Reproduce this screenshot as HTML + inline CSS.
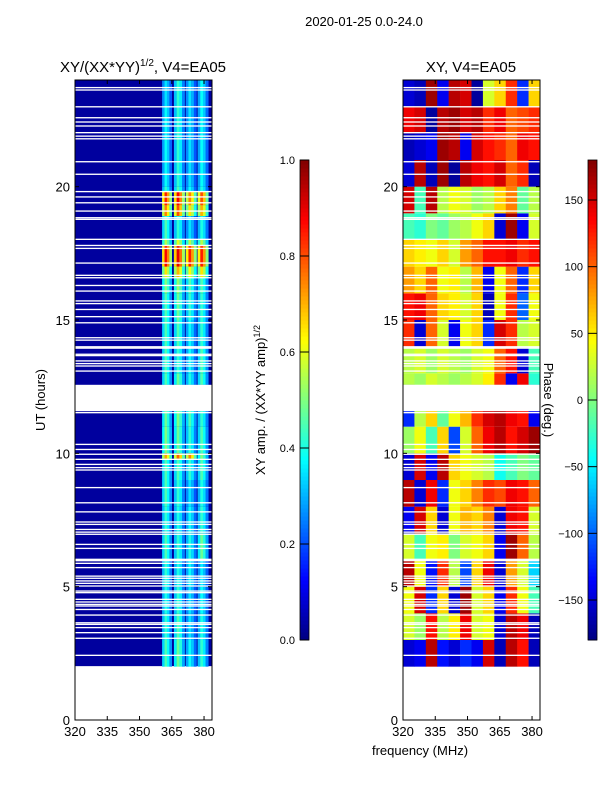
<!DOCTYPE html>
<html><head><meta charset="utf-8">
<style>
body{margin:0;background:#fff;}
svg text{font-family:"Liberation Sans","DejaVu Sans",sans-serif;fill:#000;}
</style></head>
<body>
<svg id="fig" width="600" height="800" viewBox="0 0 600 800" xmlns="http://www.w3.org/2000/svg">
<rect width="600" height="800" fill="#fff"/>
<text x="364" y="26" font-size="13" text-anchor="middle">2020-01-25 0.0-24.0</text>
<text x="143" y="72" font-size="15" text-anchor="middle">XY/(XX*YY)<tspan font-size="10" dy="-6">1/2</tspan><tspan dy="6">, V4=EA05</tspan></text>
<text x="471" y="72" font-size="15" text-anchor="middle">XY, V4=EA05</text>
<text transform="translate(45,400) rotate(-90)" font-size="13" text-anchor="middle">UT (hours)</text>
<text x="420" y="755" font-size="13" text-anchor="middle">frequency (MHz)</text>
<text transform="translate(265,400) rotate(-90)" font-size="13" text-anchor="middle">XY amp. / (XX*YY amp)<tspan font-size="9" dy="-5">1/2</tspan></text>
<text transform="translate(544,400) rotate(90)" font-size="13" text-anchor="middle">Phase (deg.)</text>
<g id="left"></g>
<g id="right"></g>
<g id="cbars"></g>
<g id="axes"></g>
</svg>
<script>
// ---- data ----
const xTicks = [320, 335, 350, 365, 380];
const yTicks = [0, 5, 10, 15, 20];
const ampTicks = [0.0, 0.2, 0.4, 0.6, 0.8, 1.0];
const phaseTicks = [-150, -100, -50, 0, 50, 100, 150];
const dataStart = 2.02, dataEnd = 24.0;
const gapHours = [[11.58, 12.57]];
const flagHours = [23.69,23.6,22.97,22.56,22.4,22.25,22.0,21.87,21.77,20.91,20.44,19.79,19.59,19.37,19.06,18.81,18.75,18.0,17.77,17.66,17.11,16.65,16.56,16.27,16.06,15.69,15.59,15.37,15.1,14.87,14.31,14.22,13.97,13.92,13.69,13.64,13.44,13.34,13.25,13.06,11.5,10.31,10.12,9.94,9.75,9.56,9.44,9.35,8.69,8.12,7.78,7.4,7.31,7.12,7.02,6.94,6.56,6.41,6.0,5.95,5.85,5.69,5.37,5.29,5.19,5.1,5.0,4.81,4.75,4.5,4.4,4.31,4.25,4.12,3.91,3.62,3.56,3.44,3.25,3.04,2.4];
const flagWidth = [0.05];
// bright channel groups (MHz) in amplitude panel
const chanLo = [360.5, 366, 371.5, 377];
const chanHi = [365, 371, 376.5, 382];
// relative response across sub-channels of each group
const subResp = [0.75, 1.0, 0.85, 0.6];
const bandLo = [2,3,4,5,6,7,8,9,10,11,12.57,13,14,15,16,17,18,19,20,21,22,23];
const ampCols = [
 [0.45,0.48,0.38,0.42],[0.42,0.45,0.35,0.4],[0.4,0.42,0.35,0.38],[0.42,0.4,0.38,0.36],
 [0.45,0.42,0.4,0.48],[0.42,0.4,0.38,0.42],[0.45,0.42,0.35,0.4],[0.45,0.45,0.42,0.45],
 [0.5,0.48,0.42,0.45],[0.48,0.5,0.45,0.42],[0.45,0.48,0.4,0.45],[0.45,0.42,0.38,0.45],
 [0.45,0.45,0.38,0.42],[0.45,0.48,0.42,0.42],[0.5,0.52,0.45,0.45],[0.55,0.6,0.55,0.55],
 [0.45,0.42,0.35,0.4],[0.42,0.45,0.38,0.4],[0.38,0.42,0.35,0.38],[0.38,0.42,0.35,0.38],
 [0.38,0.42,0.35,0.38],[0.35,0.42,0.35,0.38]];
const hotLo = [19.3, 18.9, 17.0, 16.6, 9.8];
const hotHi = [19.8, 19.3, 17.8, 17.0, 10.0];
const hotAmp = [[0.85,0.88,0.75,0.8],[0.75,0.8,0.65,0.7],[0.88,0.9,0.85,0.85],[0.65,0.7,0.62,0.65],[0.72,0.78,0.75,0.5]];
const ampBase = [0.03];
// phase panel: 12 frequency columns per band
const phaseBandLo = [2,3,4,5,6,7,8,9,10,11,12.57,13,14,15,16,17,18,19,20,21,22,23];
const phaseVals = [
 [-150,-140,160,-130,-150,-120,-140,150,-160,160,130,-160],
 [30,10,130,20,50,140,30,40,-150,160,140,-160],
 [40,150,-120,60,-150,170,30,60,-140,120,40,-20],
 [160,40,-130,120,20,-110,60,140,-150,80,30,-60],
 [30,-20,40,50,0,30,40,60,-140,170,100,20],
 [-140,150,60,-150,40,70,60,90,-150,140,130,30],
 [160,-150,140,-120,40,60,90,120,110,140,130,100],
 [-150,150,-140,160,60,40,30,20,-40,-20,0,-10],
 [10,40,-20,60,-110,30,100,140,160,130,150,170],
 [-120,20,60,-10,40,70,120,150,160,140,130,-140],
 [20,10,30,20,10,20,30,50,120,-140,140,-30],
 [20,30,10,30,20,10,30,40,100,130,-150,-20],
 [120,-150,100,30,-140,40,60,-120,150,120,20,30],
 [130,140,100,60,50,30,60,-160,40,120,-100,40],
 [80,60,100,40,50,20,70,-140,40,100,-120,60],
 [60,50,40,60,30,80,100,130,130,140,120,130],
 [-20,-30,0,-10,10,20,40,60,-150,170,-140,30],
 [150,-20,160,20,40,30,10,20,60,90,-10,20],
 [-150,160,-160,170,-170,160,140,130,150,100,120,-160],
 [-160,-150,-140,170,160,-140,150,130,120,100,140,130],
 [140,150,-170,160,170,150,160,120,140,100,110,120],
 [-150,-160,170,-140,160,150,-170,30,60,120,-120,60]];

// ---- geometry ----
const NS = "http://www.w3.org/2000/svg";
const fMin = 320, fMax = 383.7, hMin = 0, hMax = 24;
const panels = [{x0:75, x1:212}, {x0:403, x1:540}];
const pyTop = 80, pyBot = 720;
function xs(p, f){ return p.x0 + (f - fMin) / (fMax - fMin) * (p.x1 - p.x0); }
function ys(h){ return pyBot - (h - hMin) / (hMax - hMin) * (pyBot - pyTop); }
function jet(v){
  v = Math.max(0, Math.min(1, v));
  const r = Math.max(0, Math.min(1, Math.min(4*v-1.5, -4*v+4.5)));
  const g = Math.max(0, Math.min(1, Math.min(4*v-0.5, -4*v+3.5)));
  const b = Math.max(0, Math.min(1, Math.min(4*v+0.5, -4*v+2.5)));
  return `rgb(${Math.round(r*255)},${Math.round(g*255)},${Math.round(b*255)})`;
}
function mk(tag, attrs, parent){
  const e = document.createElementNS(NS, tag);
  for (const k in attrs) e.setAttribute(k, attrs[k]);
  parent.appendChild(e); return e;
}
function bandHi(arr, i){ return i + 1 < arr.length ? arr[i+1] : dataEnd; }

// ---- amplitude panel ----
const L = document.getElementById('left'), p0 = panels[0];
let r = mk('rect', {x:p0.x0, y:ys(dataEnd), width:p0.x1-p0.x0, height:ys(dataStart)-ys(dataEnd), fill:jet(ampBase[0])}, L);


function ampGroup(lo, hi, amps, nm){
  chanLo.forEach((cl, c) => {
    const w = (chanHi[c] - cl) / subResp.length;
    subResp.forEach((s, k) => {
      const f0 = cl + k*w;
      const e = mk('rect', {x:xs(p0,f0), y:ys(hi), width:xs(p0,f0+w)-xs(p0,f0)+0.2, height:ys(lo)-ys(hi), fill:jet(amps[c]*s)}, L);
      
      
    });
  });
}
bandLo.forEach((lo, i) => ampGroup(lo, bandHi(bandLo, i), ampCols[i], 'amp-cell'));
hotLo.forEach((lo, i) => ampGroup(lo, hotHi[i], hotAmp[i], 'amp-hot-cell'));

// ---- phase panel ----
const R = document.getElementById('right'), p1 = panels[1];
const nCol = phaseVals[0].length, fw = (fMax - fMin) / nCol;
phaseBandLo.forEach((lo, i) => {
  const hi = bandHi(phaseBandLo, i);
  phaseVals[i].forEach((v, c) => {
    const f0 = fMin + c*fw;
    const e = mk('rect', {x:xs(p1,f0), y:ys(hi), width:xs(p1,f0+fw)-xs(p1,f0)+0.3, height:ys(lo)-ys(hi), fill:jet((v+180)/360)}, R);
    
    
  });
});

// ---- flags and gaps (white) ----
panels.forEach((p, k) => {
  const g = k === 0 ? L : R;
  flagHours.forEach(h => {
    const e = mk('rect', {x:p.x0, y:ys(h+flagWidth[0]), width:p.x1-p.x0, height:ys(h)-ys(h+flagWidth[0]), fill:'#fff'}, g);
    
    
  });
  gapHours.forEach(([a,b]) => {
    const e = mk('rect', {x:p.x0, y:ys(b), width:p.x1-p.x0, height:ys(a)-ys(b), fill:'#fff'}, g);
    
    
  });
});

// ---- axes ----
const A = document.getElementById('axes');
panels.forEach((p, k) => {
  const fr = mk('rect', {x:p.x0, y:pyTop, width:p.x1-p.x0, height:pyBot-pyTop, fill:'none', stroke:'#000', 'stroke-width':1}, A);
  
  
  xTicks.forEach(t => {
    const x = xs(p, t);
    mk('line', {x1:x, x2:x, y1:pyBot, y2:pyBot-4, stroke:'#000'}, A);
    mk('line', {x1:x, x2:x, y1:pyTop, y2:pyTop+4, stroke:'#000'}, A);
    const tx = mk('text', {x:x, y:pyBot+16, 'font-size':13, 'text-anchor':'middle'}, A);
    tx.textContent = t;
    
    
  });
  yTicks.forEach(t => {
    const y = ys(t);
    mk('line', {x1:p.x0, x2:p.x0+4, y1:y, y2:y, stroke:'#000'}, A);
    mk('line', {x1:p.x1, x2:p.x1-4, y1:y, y2:y, stroke:'#000'}, A);
    const tx = mk('text', {x:p.x0-5, y:y+5, 'font-size':13, 'text-anchor':'end'}, A);
    tx.textContent = t;
    
    
  });
});

// ---- colorbars ----
const C = document.getElementById('cbars');
const cbTop = 160, cbBot = 640;
function colorbar(x, vmin, vmax, ticks, labelX, anchor, name){
  const n = 120;
  for (let i = 0; i < n; i++){
    const y0 = cbBot - (i+1)*(cbBot-cbTop)/n;
    mk('rect', {x:x, y:y0, width:9, height:(cbBot-cbTop)/n+0.5, fill:jet((i+0.5)/n)}, C);
  }
  const fr = mk('rect', {x:x, y:cbTop, width:9, height:cbBot-cbTop, fill:'none', stroke:'#000', 'stroke-width':0.8}, C);
  
  
  ticks.forEach(t => {
    const y = cbBot - (t - vmin)/(vmax - vmin)*(cbBot-cbTop);
    mk('line', {x1:x, x2:x+9, y1:y, y2:y, stroke:'#000'}, C);
    const tx = mk('text', {x:labelX, y:y+4, 'font-size':11, 'text-anchor':anchor}, C);
    tx.textContent = (vmax <= 1) ? t.toFixed(1) : String(t).replace('-', '\u2212');
    
    
  });
}
colorbar(300, 0, 1, ampTicks, 295, 'end', 'amp-colorbar');
colorbar(588, -180, 180, phaseTicks, 583, 'end', 'phase-colorbar');
</script>
</body></html>
